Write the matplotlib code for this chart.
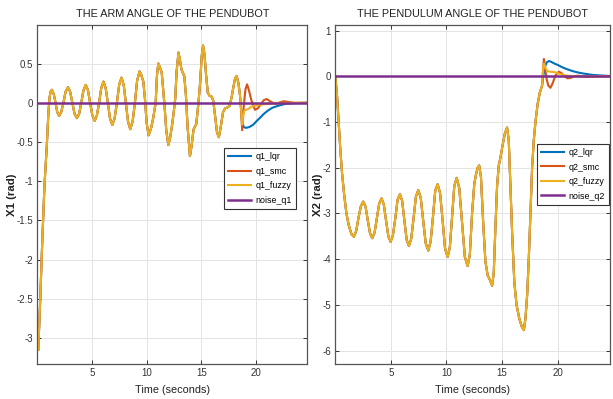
import matplotlib
matplotlib.use("Agg")
import matplotlib.pyplot as plt
from matplotlib import font_manager

# --- data ------------------------------------------------------------------
# arm angle q1: shared swing-up part (identical for all controllers)
q1_t_swing = [0.08, 0.25, 0.45, 0.65, 0.86, 1.0, 1.1, 1.2, 1.32,
              1.5, 1.66, 1.82, 1.99, 2.18, 2.38, 2.58, 2.8,
              3.0, 3.2, 3.4, 3.62, 3.82, 4.02, 4.22, 4.43,
              4.63, 4.83, 5.03, 5.25, 5.45, 5.65, 5.85, 6.05,
              6.25, 6.45, 6.65, 6.86, 7.07, 7.28, 7.49, 7.7,
              7.9, 8.1, 8.3, 8.5, 8.72, 8.93, 9.13, 9.35,
              9.5, 9.7, 9.85, 10.0, 10.18, 10.4, 10.6, 10.83, 10.95, 11.07,
              11.2, 11.38, 11.5, 11.65, 11.8, 11.99, 12.15, 12.35, 12.5, 12.62, 12.75, 12.92,
              13.05, 13.2, 13.45, 13.6, 13.75, 13.97, 14.12, 14.3, 14.55, 14.75, 14.9, 15.05, 15.17,
              15.3, 15.45, 15.6, 15.75, 15.95, 16.1, 16.3, 16.45, 16.62,
              16.8, 17.0, 17.2, 17.4, 17.6, 17.8, 17.95, 18.1, 18.24,
              18.4, 18.55, 18.63]
q1_v_swing = [-3.15, -2.55, -1.75, -1.05, -0.55, -0.15, 0.05, 0.14, 0.165,
              0.11, 0.0, -0.12, -0.167, -0.12, 0.0, 0.14, 0.197,
              0.14, 0.0, -0.14, -0.196, -0.14, 0.0, 0.16, 0.228,
              0.16, 0.0, -0.16, -0.23, -0.16, 0.0, 0.19, 0.27,
              0.19, 0.0, -0.2, -0.283, -0.2, 0.0, 0.23, 0.32,
              0.23, 0.0, -0.24, -0.337, -0.24, 0.0, 0.28, 0.40,
              0.36, 0.27, 0.05, -0.25, -0.415, -0.33, -0.2, 0.0, 0.35, 0.50,
              0.46, 0.39, 0.2, -0.05, -0.35, -0.54, -0.45, -0.27, -0.1, 0.05, 0.4, 0.64,
              0.55, 0.42, 0.34, 0.1, -0.3, -0.68, -0.55, -0.34, -0.27, 0.0, 0.25, 0.6, 0.73,
              0.62, 0.35, 0.13, 0.09, 0.08, 0.03, -0.2, -0.38, -0.44,
              -0.3, -0.12, -0.07, -0.06, -0.04, 0.08, 0.2, 0.31, 0.34,
              0.26, 0.1, -0.04]

# arm angle q1: after the switch to the balancing controller
q1_lqr_t = [18.75, 18.9, 19.1, 19.4, 19.76, 20.1, 20.4, 20.75, 21.1, 21.5, 21.9, 22.4, 22.8, 23.5, 24.7]
q1_lqr_v = [-0.25, -0.31, -0.32, -0.31, -0.28, -0.23, -0.19, -0.14, -0.10, -0.065, -0.045, -0.025, -0.013, -0.005, 0.0]
q1_smc_t = [18.75, 18.9, 19.05, 19.2, 19.35, 19.6, 19.92, 20.2, 20.5, 20.75, 21.0, 21.3, 21.75, 22.1, 22.55, 23.0, 23.5, 24.7]
q1_smc_v = [-0.35, -0.04, 0.17, 0.235, 0.17, 0.03, -0.09, -0.07, -0.01, 0.035, 0.047, 0.02, -0.013, 0.0, 0.02, 0.01, 0.0, 0.0]
q1_fuzzy_t = [18.75, 18.85, 18.95, 19.3, 19.6, 20.0, 20.7, 21.5, 22.5, 24.7]
q1_fuzzy_v = [-0.28, -0.16, -0.10, -0.08, -0.05, -0.035, -0.02, -0.008, -0.002, 0.0]

# pendulum angle q2: shared swing-up part
q2_t_swing = [0.0, 0.15, 0.3, 0.45, 0.6, 0.8, 1.0, 1.2, 1.45, 1.67,
              1.88, 2.08, 2.3, 2.51, 2.72, 2.92, 3.12, 3.32,
              3.53, 3.74, 3.95, 4.16, 4.36, 4.56, 4.77, 4.97,
              5.18, 5.4, 5.6, 5.81, 6.01, 6.21, 6.42, 6.62,
              6.83, 7.04, 7.25, 7.46, 7.68, 7.9, 8.13, 8.36,
              8.57, 8.78, 8.99, 9.2, 9.42, 9.65, 9.87, 10.1,
              10.3, 10.5, 10.7, 10.92, 11.15, 11.4, 11.65, 11.9,
              12.1, 12.3, 12.5, 12.65, 12.8, 12.94,
              13.1, 13.3, 13.5, 13.7, 13.9, 14.1,
              14.25, 14.4, 14.55, 14.7, 14.85, 15.05, 15.25, 15.45,
              15.6, 15.75, 15.9, 16.1, 16.3, 16.55, 16.78, 16.96,
              17.1, 17.25, 17.4, 17.55, 17.7, 17.85, 18.0, 18.2, 18.4, 18.6]
q2_v_swing = [0.0, -0.4, -1.0, -1.6, -2.1, -2.6, -3.0, -3.25, -3.45, -3.51,
              -3.38, -3.1, -2.84, -2.74, -2.85, -3.15, -3.43, -3.54,
              -3.42, -3.1, -2.78, -2.67, -2.8, -3.15, -3.5, -3.62,
              -3.48, -3.1, -2.7, -2.58, -2.72, -3.15, -3.58, -3.71,
              -3.55, -3.1, -2.63, -2.49, -2.65, -3.15, -3.65, -3.81,
              -3.62, -3.08, -2.5, -2.36, -2.55, -3.15, -3.77, -3.95,
              -3.74, -3.08, -2.4, -2.22, -2.45, -3.2, -3.95, -4.15,
              -3.9, -3.0, -2.35, -2.15, -2.0, -1.95,
              -2.2, -3.2, -4.05, -4.35, -4.45, -4.58,
              -4.3, -3.3, -2.4, -1.95, -1.78, -1.5, -1.25, -1.12,
              -1.4, -2.4, -3.4, -4.5, -5.0, -5.3, -5.48, -5.55,
              -5.3, -4.8, -4.0, -3.0, -2.0, -1.4, -1.0, -0.6, -0.35, -0.2]

q2_lqr_t = [18.7, 18.85, 19.0, 19.2, 19.4, 19.7, 20.0, 20.4, 20.8, 21.4, 22.0, 22.6, 23.2, 23.8, 24.7]
q2_lqr_v = [0.0, 0.2, 0.3, 0.335, 0.32, 0.28, 0.25, 0.2, 0.16, 0.11, 0.075, 0.05, 0.03, 0.02, 0.008]
q2_smc_t = [18.7, 18.76, 18.85, 19.0, 19.15, 19.35, 19.55, 19.8, 20.1, 20.35, 20.6, 20.9, 21.2, 21.5, 21.8, 22.2, 22.6, 23.0, 23.5, 24.7]
q2_smc_v = [0.2, 0.38, 0.2, -0.05, -0.2, -0.25, -0.15, 0.02, 0.1, 0.07, 0.0, -0.045, -0.03, 0.0, 0.015, 0.0, -0.015, -0.005, 0.0, 0.0]
q2_fuzzy_t = [18.7, 18.78, 18.9, 19.1, 19.4, 19.75, 20.1, 20.5, 21.0, 22.0, 24.7]
q2_fuzzy_v = [0.2, 0.28, 0.18, 0.11, 0.1, 0.09, 0.06, 0.03, 0.01, 0.0, 0.0]

noise_t = [0.0, 24.7]
noise_v = [0.0, 0.0]

# --- style --------------------------------------------------------------
C_LQR = "#0072BD"
C_SMC = "#D95319"
C_FUZZY = "#EDB120"
C_NOISE = "#7E2F8E"
LW = 1.5

plt.rcParams["font.family"] = ["Liberation Sans", "DejaVu Sans"]
plt.rcParams["axes.unicode_minus"] = False

fig = plt.figure(figsize=(6.13, 3.99), dpi=100)
ax1 = fig.add_axes([0.061, 0.088, 0.440, 0.849])
ax2 = fig.add_axes([0.547, 0.088, 0.448, 0.849])


def _style_axes(ax):
    for s in ax.spines.values():
        s.set_color("#555555")
        s.set_linewidth(0.9)
    ax.grid(True, color="#e4e4e4", linewidth=0.7)
    ax.set_axisbelow(True)
    ax.tick_params(direction="in", top=True, right=True, length=3,
                   width=0.7, colors="#333333", labelsize=7.0, pad=3)


def _panel(ax, t_sw, v_sw, lqr, smc, fuzzy, names, title, ylabel, loc, ylab_x):
    ax.plot(t_sw + lqr[0], v_sw + lqr[1], color=C_LQR, lw=LW, label=names[0])
    ax.plot(t_sw + smc[0], v_sw + smc[1], color=C_SMC, lw=LW, label=names[1])
    ax.plot(t_sw + fuzzy[0], v_sw + fuzzy[1], color=C_FUZZY, lw=LW, label=names[2])
    ax.plot(noise_t, noise_v, color=C_NOISE, lw=LW + 0.3, label=names[3])
    ax.set_title(title, fontsize=7.8, pad=6, color="#222222")
    ax.set_xlabel("Time (seconds)", fontsize=7.8, labelpad=5, color="#222222")
    ax.set_ylabel(ylabel, fontsize=8.2, fontweight="bold", color="#222222")
    ax.yaxis.set_label_coords(ylab_x, 0.5)
    ax.set_xticks([5, 10, 15, 20])
    ax.set_xlim(0, 24.7)
    leg = ax.legend(loc="upper right", bbox_to_anchor=loc, fontsize=6.4,
                    fancybox=False, framealpha=1, edgecolor="#333333",
                    handlelength=2.6, borderpad=0.45, labelspacing=0.62,
                    handletextpad=0.5, borderaxespad=0)
    leg.get_frame().set_linewidth(0.8)
    _style_axes(ax)


_panel(ax1, q1_t_swing, q1_v_swing,
       (q1_lqr_t, q1_lqr_v), (q1_smc_t, q1_smc_v), (q1_fuzzy_t, q1_fuzzy_v),
       ["q1_lqr", "q1_smc", "q1_fuzzy", "noise_q1"],
       "THE ARM ANGLE OF THE PENDUBOT", "X1 (rad)", (0.959, 0.637), -0.075)
ax1.set_ylim(-3.33, 0.99)
ax1.set_yticks([-3, -2.5, -2, -1.5, -1, -0.5, 0, 0.5])
ax1.set_yticklabels(["-3", "-2.5", "-2", "-1.5", "-1", "-0.5", "0", "0.5"])

_panel(ax2, q2_t_swing, q2_v_swing,
       (q2_lqr_t, q2_lqr_v), (q2_smc_t, q2_smc_v), (q2_fuzzy_t, q2_fuzzy_v),
       ["q2_lqr", "q2_smc", "q2_fuzzy", "noise_q2"],
       "THE PENDULUM ANGLE OF THE PENDUBOT", "X2 (rad)", (0.996, 0.649), -0.046)
ax2.set_ylim(-6.29, 1.12)
ax2.set_yticks([-6, -5, -4, -3, -2, -1, 0, 1])

fig.savefig("out.png", dpi=100)
